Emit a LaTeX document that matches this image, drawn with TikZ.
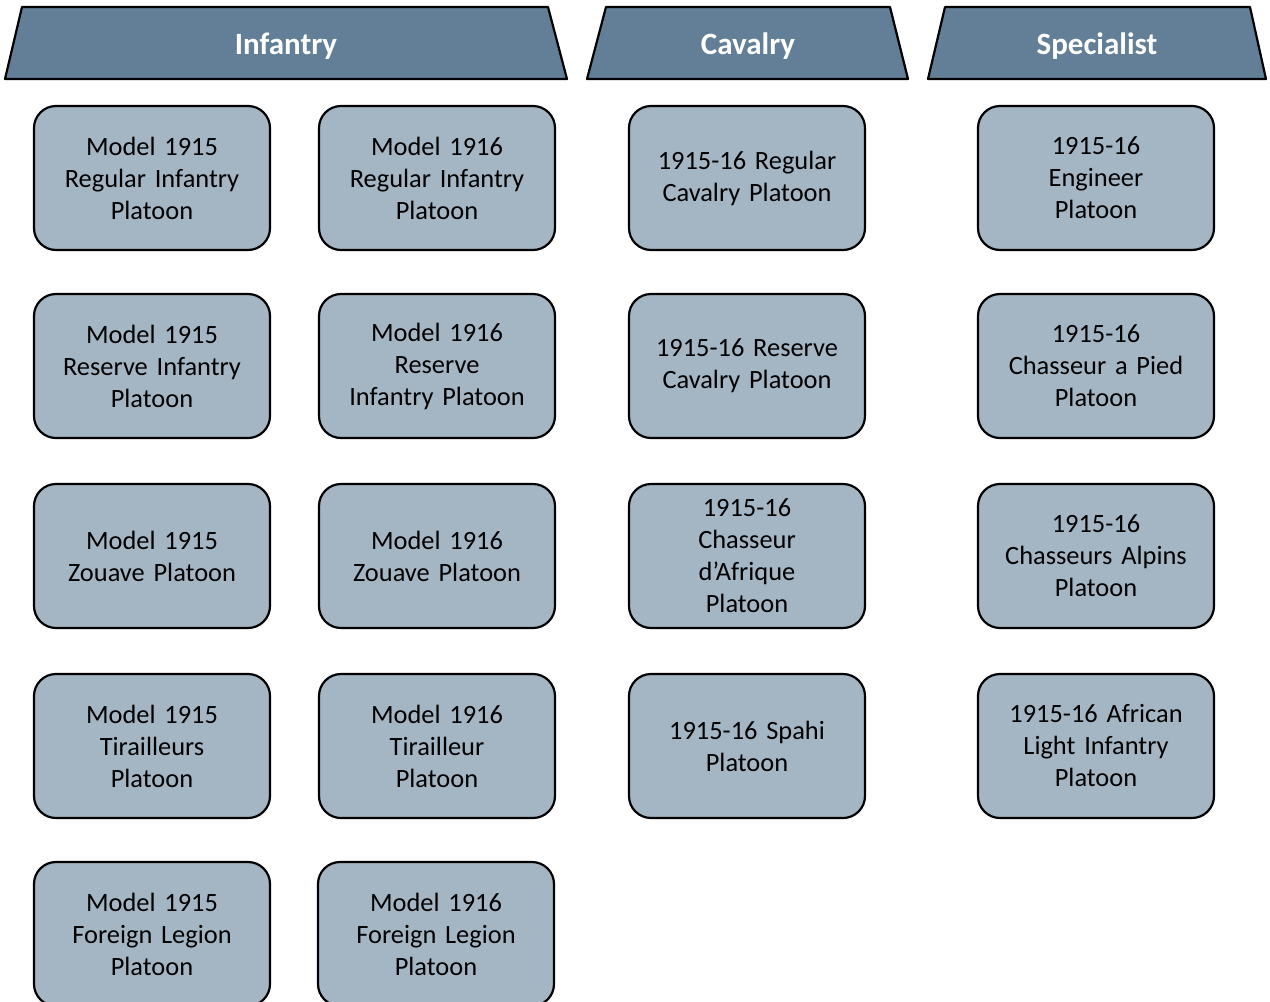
\documentclass[tikz,border=0pt]{standalone}
\usepackage{fontspec}
\setmainfont{Carlito}[WordSpace=0.8]
\begin{document}
\begin{tikzpicture}[x=1pt,y=-1pt,
  headfill/.style={fill=hdr, draw=black, line width=2.2pt, line join=round},
  headtext/.style={text=white, font=\fontsize{31}{36}\selectfont\bfseries},
  unit/.style={draw=black, fill=unitfill, line width=2.2pt, rounded corners=22pt,
    minimum width=236pt, minimum height=144pt, align=center, text width=230pt,
    font=\fontsize{26.4}{32}\selectfont, inner sep=0pt}]
\definecolor{hdr}{HTML}{627F97}
\definecolor{unitfill}{HTML}{A4B6C4}
\useasboundingbox (0,0) rectangle (1270,1002);
\fill[white] (0,0) rectangle (1270,1002);

% branch headers
\draw[headfill] (5,79) -- (22,7) -- (548,7) -- (567,79) -- cycle;
\node[headtext] (inf) at (286,46) {Infantry};
\draw[headfill] (587,79) -- (606,7) -- (890,7) -- (908,79) -- cycle;
\node[headtext] (cav) at (748,46) {Cavalry};
\draw[headfill] (928,79) -- (945,7) -- (1250,7) -- (1266,79) -- cycle;
\node[headtext] (spe) at (1097,46) {Specialist};

% infantry, 1915 pattern
\node[unit] (i15a) at (152,178) {Model 1915\\Regular Infantry\\Platoon};
\node[unit] (i15b) at (152,366) {Model 1915\\Reserve Infantry\\Platoon};
\node[unit] (i15c) at (152,556) {Model 1915\\Zouave Platoon};
\node[unit] (i15d) at (152,746) {Model 1915\\Tirailleurs\\Platoon};
\node[unit] (i15e) at (152,934) {Model 1915\\Foreign Legion\\Platoon};

% infantry, 1916 pattern
\node[unit] (i16a) at (437,178) {Model 1916\\Regular Infantry\\Platoon};
\node[unit] (i16b) at (437,366) {Model 1916\\Reserve\\Infantry Platoon};
\node[unit] (i16c) at (437,556) {Model 1916\\Zouave Platoon};
\node[unit] (i16d) at (437,746) {Model 1916\\Tirailleur\\Platoon};
\node[unit] (i16e) at (436,934) {Model 1916\\Foreign Legion\\Platoon};

% cavalry
\node[unit] (cva) at (747,178) {1915-16 Regular\\Cavalry Platoon};
\node[unit] (cvb) at (747,366) {1915-16 Reserve\\Cavalry Platoon};
\node[unit] (cvc) at (747,556) {1915-16\\Chasseur\\d’Afrique\\Platoon};
\node[unit] (cvd) at (747,746) {1915-16 Spahi\\Platoon};

% specialists
\node[unit] (spa) at (1096,178) {1915-16\\Engineer\\Platoon};
\node[unit] (spb) at (1096,366) {1915-16\\Chasseur a Pied\\Platoon};
\node[unit] (spc) at (1096,556) {1915-16\\Chasseurs Alpins\\Platoon};
\node[unit] (spd) at (1096,746) {1915-16 African\\Light Infantry\\Platoon};
\end{tikzpicture}
\end{document}
